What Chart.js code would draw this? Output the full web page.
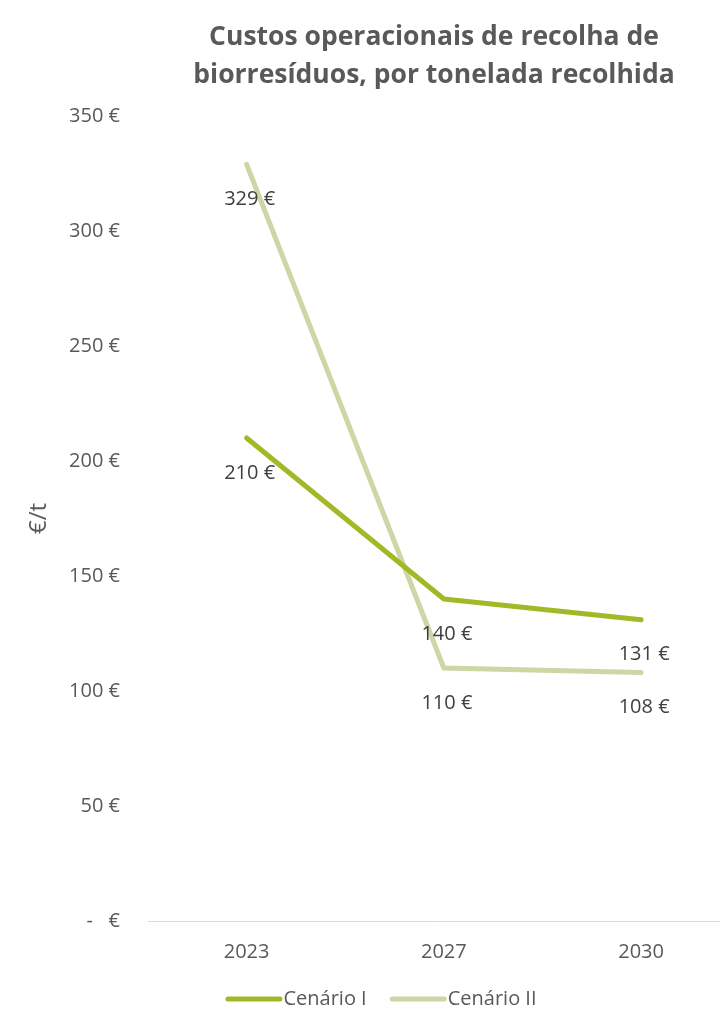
<!DOCTYPE html>
<html>
<head>
<meta charset="utf-8">
<script src="https://cdn.jsdelivr.net/npm/chart.js@4"></script>
<style>
  html, body { margin: 0; padding: 0; background: #ffffff; }
  #wrap { width: 720px; height: 1014px; }
</style>
</head>
<body>
<div id="wrap"><canvas id="c" width="720" height="1014"></canvas></div>
<script>
const categories = ['2023', '2027', '2030'];
const cenarioI = [210, 140, 131];
const cenarioII = [329, 110, 108];
const seriesNames = ['Cenário I', 'Cenário II'];
const seriesColors = ['#a4b827', '#cbd7a5'];
const chartTitle = ['Custos operacionais de recolha de', 'biorresíduos, por tonelada recolhida'];
const yAxisTitle = '€/t';

const FONT = "'Open Sans', sans-serif";

function euro(v) {
  return v === 0 ? '-   €' : v + ' €';
}

const dataLabels = {
  id: 'dataLabels',
  afterDatasetsDraw(chart) {
    const ctx = chart.ctx;
    ctx.save();
    ctx.font = '20px ' + FONT;
    ctx.fillStyle = '#404040';
    ctx.textAlign = 'center';
    ctx.textBaseline = 'middle';
    chart.data.datasets.forEach((ds, di) => {
      const meta = chart.getDatasetMeta(di);
      meta.data.forEach((pt, i) => {
        ctx.fillText(euro(ds.data[i].y), pt.x + 3, pt.y + 35);
      });
    });
    ctx.restore();
  }
};

const lineLegend = {
  id: 'lineLegend',
  afterDraw(chart) {
    const ctx = chart.ctx;
    ctx.save();
    ctx.font = '20px ' + FONT;
    const sample = 57, gapText = 1, gapItem = 23;
    const items = chart.data.datasets.map(ds => ({
      text: ds.label, color: ds.borderColor, w: ctx.measureText(ds.label).width
    }));
    let total = 0;
    items.forEach((it, i) => { total += sample + gapText + it.w + (i ? gapItem : 0); });
    let x = 381 - total / 2;
    const y = 999;
    ctx.textBaseline = 'middle';
    ctx.textAlign = 'left';
    items.forEach((it, i) => {
      if (i) x += gapItem;
      ctx.strokeStyle = it.color;
      ctx.lineWidth = 5;
      ctx.lineCap = 'round';
      ctx.beginPath();
      ctx.moveTo(x + 2.5, y);
      ctx.lineTo(x + sample - 2.5, y);
      ctx.stroke();
      x += sample + gapText;
      ctx.fillStyle = '#595959';
      ctx.fillText(it.text, x, y);
      x += it.w;
    });
    ctx.restore();
  }
};

const ctx = document.getElementById('c').getContext('2d');
new Chart(ctx, {
  type: 'line',
  data: {
    datasets: [
      {
        label: seriesNames[0],
        data: cenarioI.map((y, i) => ({ x: i, y })),
        borderColor: seriesColors[0],
        backgroundColor: seriesColors[0],
        borderWidth: 5,
        borderCapStyle: 'round',
        borderJoinStyle: 'round',
        pointRadius: 0,
        tension: 0,
        fill: false
      },
      {
        label: seriesNames[1],
        data: cenarioII.map((y, i) => ({ x: i, y })),
        borderColor: seriesColors[1],
        backgroundColor: seriesColors[1],
        borderWidth: 5,
        borderCapStyle: 'round',
        borderJoinStyle: 'round',
        pointRadius: 0,
        tension: 0,
        fill: false
      }
    ]
  },
  options: {
    responsive: false,
    animation: false,
    devicePixelRatio: 1,
    layout: { padding: { top: 0, left: 0, right: 0, bottom: 50 } },
    plugins: {
      legend: { display: false },
      tooltip: { enabled: false },
      title: {
        display: true,
        text: chartTitle,
        fullSize: false,
        color: '#595959',
        font: { family: FONT, size: 26.5, weight: 'bold', lineHeight: '38px' },
        padding: { top: 18, bottom: 22 }
      }
    },
    scales: {
      x: {
        type: 'linear',
        min: -0.5,
        max: 2.4,
        grid: { display: false, drawTicks: false },
        border: { display: true, color: '#d9d9d9', width: 1 },
        afterBuildTicks(scale) {
          scale.ticks = categories.map((_, i) => ({ value: i }));
        },
        afterFit(scale) { scale.height = 43; },
        ticks: {
          padding: 19,
          color: '#595959',
          font: { family: FONT, size: 20 },
          callback: (v) => categories[v],
          maxRotation: 0,
          autoSkip: false
        }
      },
      y: {
        min: 0,
        max: 350,
        grid: { display: false, drawTicks: false },
        border: { display: false },
        afterFit(scale) { scale.width = 148; },
        ticks: {
          stepSize: 50,
          padding: 28,
          color: '#595959',
          font: { family: FONT, size: 20 },
          callback: (v) => euro(v)
        },
        title: {
          display: true,
          text: yAxisTitle,
          color: '#595959',
          font: { family: FONT, size: 24 },
          padding: { top: 25, bottom: 0 }
        }
      }
    }
  },
  plugins: [dataLabels, lineLegend]
});
</script>
</body>
</html>
